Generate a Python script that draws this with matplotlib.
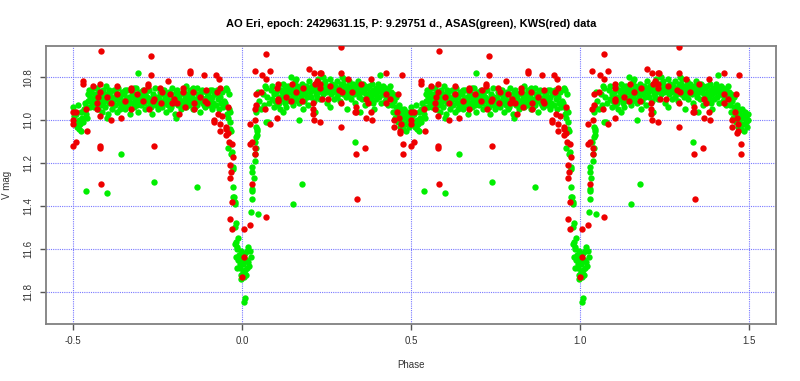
import numpy as np
import matplotlib.pyplot as plt

plt.rcParams["font.family"] = ["Liberation Sans", "DejaVu Sans"]

# phase folded with P = 9.29751 d, phases read in [-0.5, 0.5); drawn twice (+0 and +1)
asas_obs = [
    # secondary eclipse end
    (-0.499, 10.94), (-0.497, 10.98), (-0.495, 10.96), (-0.493, 11.01), (-0.490, 10.97), (-0.488, 11.03),
    (-0.486, 10.93), (-0.483, 11.00), (-0.481, 11.04), (-0.479, 11.02), (-0.477, 10.96), (-0.476, 11.05),
    (-0.474, 10.99), (-0.471, 11.01), (-0.469, 10.95), (-0.466, 10.92), (-0.463, 10.97), (-0.461, 10.94),
    (-0.459, 10.99), (-0.457, 10.88), (-0.455, 10.91), (-0.453, 10.86), (-0.451, 10.94), (-0.449, 10.89),
    (-0.446, 10.87), (-0.444, 10.92), (-0.442, 10.85), (-0.440, 10.90),
    # maximum before primary
    (-0.435, 10.88), (-0.432, 10.92), (-0.430, 10.85), (-0.427, 10.95), (-0.425, 10.90), (-0.422, 10.87),
    (-0.420, 10.93), (-0.417, 10.89), (-0.414, 10.96), (-0.412, 10.86), (-0.409, 10.91), (-0.406, 10.94),
    (-0.404, 10.88), (-0.401, 10.84), (-0.398, 10.90), (-0.396, 10.97), (-0.393, 10.92), (-0.390, 10.87),
    (-0.388, 10.89), (-0.385, 10.95), (-0.382, 10.91), (-0.380, 10.86), (-0.377, 10.93), (-0.374, 10.88),
    (-0.371, 10.90), (-0.369, 10.96), (-0.366, 10.85), (-0.363, 10.92), (-0.360, 10.89), (-0.358, 10.94),
    (-0.355, 10.87), (-0.352, 10.91), (-0.349, 10.88), (-0.347, 10.95), (-0.344, 10.90), (-0.341, 10.86),
    (-0.338, 10.93), (-0.335, 10.89), (-0.333, 10.91), (-0.330, 10.97), (-0.327, 10.87), (-0.324, 10.92),
    (-0.322, 10.88), (-0.319, 10.94), (-0.316, 10.90), (-0.313, 10.85), (-0.310, 10.91), (-0.308, 10.96),
    (-0.305, 10.89), (-0.302, 10.87), (-0.299, 10.93), (-0.297, 10.90), (-0.294, 10.86), (-0.291, 10.92),
    (-0.288, 10.95), (-0.286, 10.88), (-0.283, 10.91), (-0.280, 10.89), (-0.277, 10.94), (-0.275, 10.86),
    (-0.272, 10.92), (-0.269, 10.90), (-0.266, 10.97), (-0.264, 10.88), (-0.261, 10.91), (-0.258, 10.85),
    (-0.255, 10.93), (-0.253, 10.89), (-0.250, 10.95), (-0.247, 10.90), (-0.244, 10.87), (-0.242, 10.92),
    (-0.239, 10.88), (-0.236, 10.94), (-0.233, 10.91), (-0.231, 10.86), (-0.228, 10.89), (-0.225, 10.96),
    (-0.222, 10.90), (-0.220, 10.93), (-0.217, 10.87), (-0.214, 10.91), (-0.211, 10.88), (-0.209, 10.94),
    (-0.206, 10.85), (-0.203, 10.90), (-0.200, 10.92), (-0.198, 10.97), (-0.195, 10.89), (-0.192, 10.86),
    (-0.189, 10.93), (-0.187, 10.90), (-0.184, 10.88), (-0.181, 10.95), (-0.178, 10.91), (-0.176, 10.87),
    (-0.173, 10.92), (-0.170, 10.89), (-0.167, 10.84), (-0.165, 10.94), (-0.162, 10.90), (-0.159, 10.88),
    (-0.156, 10.93), (-0.154, 10.86), (-0.151, 10.91), (-0.148, 10.89), (-0.145, 10.95), (-0.143, 10.87),
    (-0.140, 10.92), (-0.137, 10.90), (-0.134, 10.85), (-0.132, 10.93), (-0.129, 10.88), (-0.126, 10.91),
    (-0.123, 10.96), (-0.121, 10.89), (-0.118, 10.86), (-0.115, 10.92), (-0.112, 10.90), (-0.110, 10.94),
    (-0.107, 10.87), (-0.104, 10.91), (-0.101, 10.88), (-0.099, 10.93), (-0.096, 10.86), (-0.093, 10.90),
    (-0.090, 10.95), (-0.088, 10.89), (-0.085, 10.92), (-0.082, 10.87),
    (-0.437, 10.94), (-0.428, 10.88), (-0.419, 10.91), (-0.411, 10.93), (-0.402, 10.89), (-0.394, 10.86),
    (-0.386, 10.92), (-0.378, 10.90), (-0.370, 10.88), (-0.361, 10.95), (-0.353, 10.93), (-0.345, 10.86),
    (-0.336, 10.91), (-0.328, 10.89), (-0.320, 10.85), (-0.311, 10.93), (-0.303, 10.91), (-0.295, 10.88),
    (-0.287, 10.90), (-0.279, 10.86), (-0.270, 10.94), (-0.262, 10.89), (-0.254, 10.91), (-0.246, 10.93),
    (-0.237, 10.86), (-0.229, 10.92), (-0.221, 10.88), (-0.212, 10.95), (-0.204, 10.91), (-0.196, 10.87),
    (-0.188, 10.89), (-0.179, 10.93), (-0.171, 10.86), (-0.163, 10.92), (-0.155, 10.89), (-0.146, 10.85),
    (-0.138, 10.94), (-0.130, 10.90), (-0.122, 10.87), (-0.113, 10.93), (-0.105, 10.89), (-0.097, 10.91),
    (-0.089, 10.86), (-0.083, 10.93), (-0.400, 10.99), (-0.196, 10.99), (-0.308, 10.78),
    # primary ingress
    (-0.079, 10.88), (-0.076, 10.93), (-0.073, 10.86), (-0.070, 10.90), (-0.067, 10.95), (-0.064, 10.89),
    (-0.061, 10.92), (-0.058, 10.87), (-0.055, 10.94), (-0.052, 10.91), (-0.050, 10.92), (-0.047, 10.85),
    (-0.045, 10.97), (-0.043, 10.86), (-0.041, 10.99), (-0.039, 10.88), (-0.040, 10.95), (-0.036, 10.96),
    (-0.036, 11.01), (-0.035, 11.04), (-0.033, 11.05), (-0.038, 11.05), (-0.041, 11.13), (-0.029, 11.15),
    (-0.033, 11.16), (-0.027, 11.22), (-0.028, 11.23), (-0.028, 11.31), (-0.023, 11.36), (-0.026, 11.36),
    (-0.022, 11.38), (-0.022, 11.39), (-0.018, 11.48), (-0.022, 11.50), (-0.013, 11.55), (-0.020, 11.58),
    # primary minimum
    (-0.019, 11.57), (-0.016, 11.59), (-0.015, 11.60), (-0.002, 11.61), (0.019, 11.59), (0.016, 11.61),
    (0.024, 11.61), (-0.019, 11.64), (-0.011, 11.65), (-0.004, 11.64), (0.011, 11.65), (0.026, 11.64),
    (0.019, 11.66), (-0.006, 11.67), (0.004, 11.67), (0.014, 11.69), (0.020, 11.68), (-0.014, 11.69),
    (-0.006, 11.69), (0.002, 11.71), (0.009, 11.70), (-0.004, 11.72), (0.012, 11.72), (0.006, 11.73),
    (-0.004, 11.74), (0.009, 11.83), (0.007, 11.85), (0.000, 11.66), (0.008, 11.62), (-0.009, 11.63),
    # primary egress
    (0.028, 11.43), (0.048, 11.44), (0.029, 11.37), (0.031, 11.33), (0.031, 11.32), (0.034, 11.27),
    (0.031, 11.24), (0.031, 11.22), (0.038, 11.19), (0.038, 11.16), (0.040, 11.13), (0.043, 11.07),
    (0.037, 11.10), (0.041, 11.03), (0.043, 11.05), (0.040, 11.08), (0.043, 11.04), (0.070, 11.01),
    (0.077, 11.01), (0.047, 10.87), (0.050, 10.91), (0.043, 10.94), (0.040, 10.96), (0.057, 10.95),
    (0.065, 10.93), (0.067, 10.84), (0.063, 10.88), (0.075, 10.89), (0.085, 10.86), (0.090, 10.90),
    (0.095, 10.94), (0.080, 10.92), (0.072, 10.85), (0.088, 10.84),
    # maximum after primary
    (0.098, 10.91), (0.101, 10.87), (0.104, 10.93), (0.107, 10.85), (0.110, 10.89), (0.112, 10.95),
    (0.115, 10.86), (0.118, 10.90), (0.121, 10.83), (0.123, 10.88), (0.126, 10.92), (0.129, 10.86),
    (0.131, 10.94), (0.134, 10.89), (0.137, 10.84), (0.140, 10.87), (0.142, 10.91), (0.145, 10.85),
    (0.148, 10.89), (0.150, 10.93), (0.153, 10.86), (0.156, 10.82), (0.159, 10.88), (0.161, 10.90),
    (0.164, 10.84), (0.167, 10.87), (0.169, 10.92), (0.172, 10.85), (0.175, 10.89), (0.178, 10.83),
    (0.180, 10.86), (0.183, 10.91), (0.186, 10.88), (0.188, 10.84), (0.191, 10.86), (0.194, 10.93),
    (0.197, 10.85), (0.199, 10.82), (0.202, 10.87), (0.205, 10.89), (0.207, 10.84), (0.210, 10.86),
    (0.213, 10.91), (0.216, 10.83), (0.218, 10.88), (0.221, 10.85), (0.224, 10.81), (0.226, 10.87),
    (0.229, 10.84), (0.232, 10.90), (0.235, 10.86), (0.237, 10.83), (0.240, 10.88), (0.243, 10.85),
    (0.245, 10.82), (0.248, 10.87), (0.251, 10.92), (0.254, 10.84), (0.256, 10.86), (0.259, 10.81),
    (0.262, 10.88), (0.264, 10.85), (0.267, 10.83), (0.270, 10.87), (0.273, 10.90), (0.275, 10.84),
    (0.278, 10.86), (0.281, 10.82), (0.283, 10.88), (0.286, 10.85), (0.289, 10.91), (0.292, 10.83),
    (0.294, 10.86), (0.297, 10.84), (0.300, 10.88), (0.302, 10.81), (0.305, 10.86), (0.308, 10.89),
    (0.311, 10.84), (0.313, 10.87), (0.316, 10.82), (0.319, 10.85), (0.321, 10.90), (0.324, 10.86),
    (0.327, 10.83), (0.330, 10.88), (0.332, 10.85), (0.335, 10.92), (0.338, 10.84), (0.340, 10.87),
    (0.343, 10.82), (0.346, 10.89), (0.349, 10.86), (0.351, 10.84), (0.354, 10.90), (0.357, 10.87),
    (0.359, 10.83), (0.362, 10.86), (0.365, 10.93), (0.368, 10.88), (0.370, 10.85), (0.373, 10.91),
    (0.376, 10.84), (0.378, 10.87), (0.381, 10.89), (0.384, 10.83), (0.387, 10.86), (0.389, 10.92),
    (0.392, 10.88), (0.395, 10.85), (0.397, 10.90), (0.400, 10.87), (0.403, 10.83), (0.405, 10.89),
    (0.408, 10.86), (0.411, 10.92), (0.414, 10.88), (0.416, 10.84), (0.419, 10.87), (0.422, 10.91),
    (0.424, 10.85), (0.427, 10.89), (0.430, 10.86), (0.433, 10.93), (0.435, 10.88), (0.438, 10.84),
    (0.441, 10.90),
    (0.096, 10.88), (0.109, 10.92), (0.117, 10.87), (0.128, 10.84), (0.136, 10.90), (0.147, 10.87),
    (0.155, 10.91), (0.166, 10.85), (0.174, 10.88), (0.185, 10.85), (0.193, 10.89), (0.204, 10.86),
    (0.212, 10.84), (0.223, 10.89), (0.231, 10.86), (0.242, 10.83), (0.250, 10.85), (0.261, 10.87),
    (0.269, 10.84), (0.280, 10.89), (0.288, 10.86), (0.299, 10.83), (0.307, 10.85), (0.318, 10.88),
    (0.326, 10.84), (0.337, 10.86), (0.345, 10.88), (0.356, 10.85), (0.364, 10.84), (0.375, 10.88),
    (0.383, 10.91), (0.394, 10.87), (0.402, 10.85), (0.413, 10.86), (0.421, 10.88), (0.432, 10.86),
    (0.440, 10.87), (0.120, 10.96), (0.180, 10.95), (0.215, 10.96), (0.260, 10.94), (0.310, 10.95),
    (0.350, 10.96), (0.390, 10.95), (0.295, 10.80), (0.240, 10.80), (0.160, 10.81), (0.145, 10.80),
    (0.407, 10.79), (0.170, 11.00),
    # secondary eclipse start
    (0.443, 10.93), (0.446, 10.88), (0.448, 10.96), (0.451, 10.91), (0.453, 10.99), (0.455, 10.94),
    (0.457, 10.89), (0.460, 10.97), (0.462, 11.01), (0.464, 10.93), (0.466, 10.98), (0.468, 11.03),
    (0.470, 10.95), (0.472, 11.00), (0.474, 10.97), (0.476, 11.04), (0.478, 10.99), (0.480, 10.95),
    (0.482, 11.02), (0.484, 10.98), (0.486, 11.05), (0.488, 10.96), (0.490, 11.01), (0.492, 10.99),
    (0.494, 11.03), (0.496, 10.97), (0.498, 11.00),
    # faint outliers
    (-0.462, 11.33), (-0.400, 11.34), (-0.358, 11.16), (-0.261, 11.29), (-0.132, 11.31),
    (0.151, 11.39), (0.178, 11.30), (0.334, 11.10),
]

kws_obs = [
    (-0.499, 10.96), (-0.499, 11.00), (-0.499, 11.02), (-0.491, 10.96), (-0.462, 10.95), (-0.460, 11.05),
    (-0.471, 10.82), (-0.471, 10.83), (-0.440, 10.84), (-0.427, 10.89), (-0.430, 10.92), (-0.429, 10.95),
    (-0.419, 10.83), (-0.419, 10.87), (-0.417, 10.68), (-0.419, 10.98), (-0.400, 10.89), (-0.388, 10.92),
    (-0.388, 11.00), (-0.370, 10.84), (-0.370, 10.88), (-0.357, 10.99), (-0.328, 10.85), (-0.328, 10.86),
    (-0.328, 10.95), (-0.291, 10.86), (-0.294, 10.91), (-0.279, 10.83), (-0.279, 10.84), (-0.269, 10.70),
    (-0.269, 10.79), (-0.259, 10.90), (-0.262, 10.91), (-0.274, 10.95), (-0.243, 10.85), (-0.238, 10.87),
    (-0.218, 10.82), (-0.241, 10.92), (-0.213, 10.88), (-0.208, 10.92), (-0.193, 10.92), (-0.174, 10.85),
    (-0.176, 10.87), (-0.169, 10.94), (-0.154, 10.77), (-0.154, 10.78), (-0.144, 10.87), (-0.142, 10.92),
    (-0.141, 10.95), (-0.112, 10.79), (-0.107, 10.86), (-0.109, 10.91), (-0.105, 10.92), (-0.082, 11.01),
    (-0.077, 10.79), (-0.068, 10.81), (-0.065, 10.85), (-0.075, 10.87), (-0.070, 10.97), (-0.060, 10.98),
    (-0.042, 10.94), (-0.345, 10.91), (-0.310, 10.88), (-0.200, 10.90), (-0.125, 10.89), (-0.185, 10.97),
    # primary eclipse
    (-0.084, 11.00), (-0.066, 11.02), (-0.066, 11.05), (-0.047, 11.03), (-0.047, 11.04), (-0.041, 11.06),
    (-0.047, 11.07), (-0.038, 11.10), (-0.031, 11.11), (-0.028, 11.17), (-0.035, 11.21), (-0.033, 11.24),
    (-0.035, 11.27), (-0.030, 11.38), (-0.035, 11.46), (-0.029, 11.51), (0.005, 11.64), (-0.001, 11.73),
    (0.007, 11.51), (0.024, 11.49), (0.071, 11.45), (0.031, 11.30), (0.038, 11.13), (0.038, 11.16),
    (0.030, 11.10), (0.023, 11.11), (0.025, 11.02), (0.082, 11.02),
    # after primary
    (0.037, 10.77), (0.058, 10.79), (0.082, 10.77), (0.070, 10.69), (0.070, 10.81), (0.040, 10.88),
    (0.040, 10.93), (0.037, 10.95), (0.038, 11.00), (0.055, 10.87), (0.068, 10.95), (0.105, 10.83),
    (0.103, 10.85), (0.105, 10.90), (0.105, 10.91), (0.103, 10.99), (0.146, 10.91), (0.149, 10.83),
    (0.178, 10.91), (0.198, 10.76), (0.213, 10.78), (0.210, 10.92), (0.210, 10.95), (0.210, 10.97),
    (0.214, 11.00), (0.216, 10.83), (0.223, 10.82), (0.230, 10.78), (0.236, 10.90), (0.294, 10.66),
    (0.294, 10.78), (0.233, 10.78), (0.231, 10.83), (0.231, 10.85), (0.314, 10.81), (0.292, 10.92),
    (0.297, 10.87), (0.326, 10.87), (0.336, 10.96), (0.353, 10.83), (0.366, 10.90), (0.373, 10.92),
    (0.383, 10.96), (0.386, 11.00), (0.381, 10.81), (0.368, 10.99), (0.294, 11.03), (0.230, 11.01),
    (0.425, 10.78), (0.472, 10.79), (0.427, 10.88), (0.427, 10.92), (0.437, 10.90), (0.462, 10.88),
    (0.459, 10.96), (0.450, 11.00), (0.464, 10.99), (0.467, 11.05), (0.469, 11.02), (0.333, 10.96),
    (0.338, 10.94), (0.288, 10.86), (0.260, 10.84), (0.160, 10.87), (0.130, 10.89), (0.255, 10.90),
    (0.180, 10.85),
    # outliers
    (0.339, 11.37), (0.336, 11.16), (0.365, 11.13), (0.476, 11.16), (0.476, 11.11), (0.466, 11.06),
    (0.449, 11.03), (-0.499, 11.12), (-0.490, 11.10), (-0.419, 11.12), (-0.419, 11.13),
    (-0.259, 11.12), (-0.417, 11.30),
]

x_ticks = [-0.5, 0.0, 0.5, 1.0, 1.5]
y_ticks = [10.8, 11.0, 11.2, 11.4, 11.6, 11.8]

asas_phase, asas_vmag = np.array(asas_obs).T
kws_phase, kws_vmag = np.array(kws_obs).T

fig = plt.figure(figsize=(8, 3.81), dpi=100)
ax = fig.add_axes([0.0575, 0.150, 0.9125, 0.729])

for shift in (0.0, 1.0):
    ax.scatter(asas_phase + shift, asas_vmag, s=21, c="#00ee00", linewidths=0, zorder=3)
for shift in (0.0, 1.0):
    ax.scatter(kws_phase + shift, kws_vmag, s=21, c="#ee0000", linewidths=0, zorder=4)

ax.set_xlim(-0.58, 1.58)
ax.set_ylim(11.95, 10.655)
ax.set_xticks(x_ticks)
ax.set_xticklabels(["-0.5", "0.0", "0.5", "1.0", "1.5"])
ax.set_yticks(y_ticks)
ax.set_yticklabels(["10.8", "11.0", "11.2", "11.4", "11.6", "11.8"])
ax.grid(True, color="#7878ff", linestyle=(0, (1, 1)), linewidth=0.8, zorder=1)
ax.set_axisbelow(True)

ax.tick_params(axis="both", direction="out", length=4, width=1.0, color="#555555",
               labelsize=7, labelcolor="#333333", pad=5)
ax.tick_params(axis="y", labelrotation=90)
for lab in ax.get_yticklabels():
    lab.set_va("center")
for sp in ax.spines.values():
    sp.set_color("#808080")
    sp.set_linewidth(1.3)

ax.set_xlabel("Phase", fontsize=7, color="#333333", labelpad=10)
ax.set_ylabel("V mag", fontsize=7, color="#333333", labelpad=8)
ax.set_title("AO Eri, epoch: 2429631.15, P: 9.29751 d., ASAS(green), KWS(red) data",
             fontsize=8, fontweight="bold", pad=14)

fig.savefig("out.png", dpi=100)
